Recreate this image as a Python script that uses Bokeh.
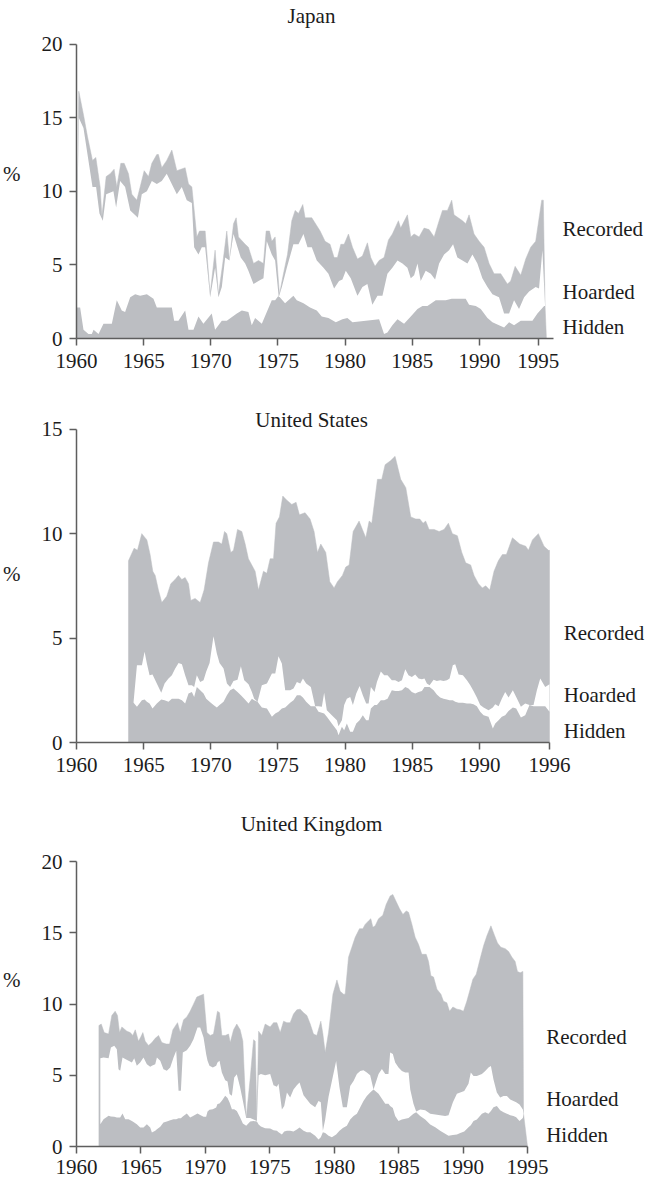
from bokeh.plotting import figure
from bokeh.layouts import column
from bokeh.models import Range1d, FixedTicker
from bokeh.core.properties import value
from bokeh.embed import file_html
from bokeh.resources import INLINE

# ---------------- data ----------------
SERIES = ["Recorded", "Hoarded", "Hidden"]

# Japan
jp_total_yr = [1960.00, 1960.17, 1960.52, 1960.82, 1961.19, 1961.44, 1961.76, 1961.89, 1962.21, 1962.51,
               1962.80, 1963.00, 1963.30, 1963.55, 1963.87, 1964.12, 1964.49, 1964.74, 1965.04, 1965.36,
               1965.61, 1965.98, 1966.10, 1966.35, 1966.72, 1967.10, 1967.47, 1968.09, 1968.34, 1968.59,
               1968.96, 1969.16, 1969.58, 1969.95, 1970.32, 1970.57, 1970.89, 1971.19, 1971.39, 1971.69,
               1971.89, 1972.06, 1972.56, 1972.80, 1973.18, 1973.55, 1973.92, 1974.12, 1974.37, 1974.54,
               1974.79, 1975.11, 1975.41, 1975.71, 1976.03, 1976.28, 1976.53, 1976.85, 1977.02, 1977.52,
               1978.14, 1978.51, 1978.88, 1979.18, 1979.43, 1979.68, 1979.93, 1980.25, 1980.55, 1980.92,
               1981.29, 1981.66, 1981.91, 1982.23, 1982.53, 1982.90, 1983.23, 1983.52, 1983.97, 1984.14,
               1984.64, 1984.89, 1985.14, 1985.51, 1985.88, 1986.25, 1986.63, 1987.00, 1987.25, 1987.62,
               1987.94, 1988.11, 1988.74, 1988.98, 1989.23, 1989.60, 1989.98, 1990.35, 1990.72, 1991.09,
               1991.59, 1992.08, 1992.33, 1992.66, 1993.08, 1993.45, 1993.82, 1994.19, 1994.64, 1994.76,
               1994.89, 1994.99]
jp_total = [4.8, 16.8, 15.2, 13.7, 12.1, 12.3, 10.3, 8.3, 11.0, 11.2,
            11.5, 10.3, 11.9, 11.9, 11.2, 9.8, 9.4, 10.3, 11.4, 11.0,
            11.9, 12.5, 12.5, 11.6, 12.1, 12.8, 11.4, 11.6, 10.5, 10.3,
            6.9, 7.3, 7.3, 3.0, 6.0, 3.0, 5.1, 7.3, 5.3, 7.8,
            8.2, 6.9, 6.4, 6.2, 5.1, 5.3, 5.1, 7.3, 7.3, 6.6,
            6.9, 3.0, 4.4, 5.7, 8.0, 8.7, 8.5, 9.1, 8.2, 8.2,
            7.3, 6.6, 6.4, 5.5, 5.5, 6.4, 6.4, 7.1, 6.2, 5.4,
            5.6, 6.5, 5.5, 4.9, 5.3, 5.5, 6.7, 7.1, 8.0, 7.5,
            8.4, 6.9, 7.1, 6.9, 7.5, 7.4, 6.9, 8.0, 8.7, 8.7,
            9.4, 8.4, 8.0, 7.8, 8.4, 7.1, 6.6, 6.2, 5.1, 4.4,
            4.4, 3.7, 3.9, 4.9, 4.3, 5.4, 6.2, 6.6, 9.4, 9.4,
            2.2, 0.0]
jp_upper_yr = [1960.00, 1960.17, 1960.52, 1961.19, 1961.46, 1961.71, 1961.96, 1962.21, 1962.75, 1962.95,
               1963.25, 1963.62, 1964.00, 1964.24, 1964.57, 1964.86, 1965.24, 1965.61, 1965.98, 1966.35,
               1966.72, 1967.47, 1967.84, 1968.21, 1968.59, 1968.76, 1969.08, 1969.33, 1969.58, 1969.95,
               1970.32, 1970.57, 1970.82, 1971.07, 1971.39, 1971.69, 1971.99, 1972.23, 1972.56, 1972.80,
               1973.18, 1973.55, 1973.92, 1974.17, 1974.54, 1974.79, 1975.06, 1975.29, 1975.66, 1976.15,
               1976.53, 1976.90, 1977.20, 1977.52, 1977.89, 1978.39, 1978.76, 1979.18, 1979.55, 1979.80,
               1980.05, 1980.42, 1980.92, 1981.29, 1981.66, 1982.03, 1982.41, 1982.78, 1983.15, 1983.52,
               1983.90, 1984.27, 1984.64, 1984.89, 1985.14, 1985.39, 1985.63, 1986.00, 1986.38, 1986.70,
               1987.00, 1987.37, 1987.74, 1988.04, 1988.36, 1988.74, 1989.11, 1989.48, 1989.85, 1990.22,
               1990.60, 1990.97, 1991.46, 1991.84, 1992.21, 1992.58, 1992.95, 1993.33, 1993.70, 1994.19,
               1994.44, 1994.69, 1994.89]
jp_upper = [4.8, 15.0, 14.3, 10.3, 10.3, 8.5, 8.0, 9.8, 10.0, 8.9,
            10.7, 10.3, 8.7, 8.5, 8.2, 9.8, 10.0, 10.7, 10.5, 10.7,
            11.2, 9.8, 10.3, 9.4, 9.2, 6.2, 5.7, 6.2, 6.2, 2.8,
            4.8, 2.8, 3.5, 5.5, 5.3, 7.1, 6.2, 5.5, 5.1, 4.6,
            3.7, 3.9, 4.1, 6.6, 5.7, 5.3, 2.8, 3.5, 4.8, 6.4,
            6.4, 7.1, 6.2, 6.2, 5.3, 4.8, 4.4, 3.4, 3.9, 4.0,
            4.6, 4.1, 2.9, 3.5, 3.7, 2.3, 2.9, 2.9, 4.4, 4.8,
            5.3, 5.1, 4.8, 4.1, 4.3, 5.1, 3.9, 4.6, 4.4, 4.0,
            5.1, 5.7, 6.0, 6.4, 5.5, 5.3, 5.1, 5.7, 5.1, 4.1,
            3.5, 3.0, 2.8, 1.7, 1.7, 2.6, 2.0, 2.8, 3.2, 3.5,
            3.4, 6.0, 2.2]
jp_lower_yr = [1960.00, 1960.27, 1960.52, 1960.89, 1961.14, 1961.27, 1961.64, 1962.01, 1962.63, 1963.00,
               1963.37, 1963.62, 1964.00, 1964.37, 1964.74, 1965.24, 1965.73, 1965.98, 1967.10, 1967.27,
               1967.59, 1968.09, 1968.34, 1968.71, 1969.08, 1969.45, 1970.07, 1970.32, 1970.82, 1971.19,
               1971.94, 1972.31, 1972.80, 1973.05, 1973.30, 1973.80, 1974.54, 1974.79, 1975.04, 1975.53,
               1976.15, 1976.40, 1976.90, 1977.39, 1977.89, 1978.26, 1978.76, 1979.31, 1979.80, 1980.17,
               1980.55, 1981.54, 1982.53, 1982.90, 1983.15, 1983.52, 1983.90, 1984.39, 1984.89, 1985.39,
               1985.76, 1986.13, 1986.75, 1987.49, 1987.94, 1988.98, 1989.23, 1989.73, 1990.10, 1990.60,
               1990.97, 1991.46, 1991.84, 1992.21, 1992.58, 1993.08, 1993.95, 1994.32, 1994.82, 1994.89]
jp_lower = [2.1, 2.1, 0.6, 0.3, 0.3, 0.6, 0.3, 1.0, 1.0, 2.6,
            1.9, 1.8, 2.8, 3.0, 2.9, 3.0, 2.7, 2.1, 2.1, 1.2,
            1.2, 1.9, 0.6, 0.6, 1.5, 1.0, 1.7, 0.6, 1.2, 1.2,
            1.7, 1.9, 1.8, 0.9, 1.4, 1.0, 2.6, 2.6, 2.9, 2.4,
            2.9, 2.6, 2.4, 2.1, 1.9, 1.5, 1.4, 1.1, 1.3, 1.4,
            1.1, 1.2, 1.3, 0.3, 0.4, 0.9, 1.3, 1.0, 1.5, 2.0,
            2.2, 2.2, 2.6, 2.6, 2.7, 2.7, 2.3, 2.2, 2.0, 1.4,
            1.1, 0.9, 0.75, 1.1, 0.9, 1.2, 1.2, 1.7, 2.2, 2.2]

# United States
us_total_yr = [1963.87, 1964.29, 1964.54, 1964.86, 1965.24, 1965.48, 1965.68, 1965.86, 1966.10, 1966.35,
               1966.72, 1967.02, 1967.34, 1967.59, 1967.84, 1968.09, 1968.34, 1968.51, 1968.83, 1969.21,
               1969.50, 1969.83, 1970.20, 1970.57, 1970.82, 1971.02, 1971.19, 1971.49, 1971.69, 1971.99,
               1972.31, 1972.56, 1972.80, 1973.05, 1973.30, 1973.55, 1973.92, 1974.17, 1974.42, 1974.67,
               1974.86, 1975.11, 1975.36, 1975.66, 1976.03, 1976.35, 1976.60, 1977.02, 1977.39, 1977.69,
               1977.94, 1978.19, 1978.56, 1978.86, 1979.18, 1979.43, 1979.80, 1980.05, 1980.30, 1980.60,
               1981.04, 1981.29, 1981.54, 1981.79, 1981.99, 1982.41, 1982.73, 1982.98, 1983.40, 1983.72,
               1984.14, 1984.52, 1984.89, 1985.26, 1985.56, 1985.81, 1986.00, 1986.25, 1986.63, 1987.00,
               1987.37, 1987.69, 1987.99, 1988.36, 1988.69, 1988.98, 1989.35, 1989.60, 1989.93, 1990.22,
               1990.47, 1990.77, 1991.09, 1991.41, 1991.71, 1992.01, 1992.46, 1993.00, 1993.45, 1993.65,
               1993.95, 1994.39, 1994.81, 1995.14, 1995.22]
us_total = [8.7, 9.3, 9.2, 10.0, 9.7, 9.0, 8.2, 8.0, 7.3, 6.7,
            7.0, 7.6, 7.8, 8.0, 7.8, 7.9, 7.6, 6.8, 6.9, 6.7,
            7.3, 8.6, 9.6, 9.6, 9.5, 10.1, 10.0, 9.1, 9.2, 10.2,
            10.1, 9.5, 8.8, 8.5, 8.2, 7.3, 8.2, 8.1, 8.8, 8.8,
            10.5, 10.8, 11.8, 11.6, 11.4, 11.5, 10.9, 11.0, 10.7, 10.1,
            9.1, 9.5, 9.1, 7.7, 7.4, 7.7, 8.0, 8.4, 8.5, 10.1,
            10.6, 10.2, 9.8, 10.6, 10.5, 12.6, 12.6, 13.3, 13.5, 13.7,
            12.6, 12.2, 10.8, 10.7, 10.7, 10.5, 10.6, 10.2, 10.2, 10.1,
            10.2, 10.5, 10.0, 9.9, 9.1, 8.6, 8.5, 8.0, 7.6, 7.4,
            7.5, 7.3, 8.2, 8.7, 9.0, 9.0, 9.8, 9.5, 9.4, 9.2,
            9.7, 10.0, 9.4, 9.2, 9.2]
us_band_yr = [1964.25, 1964.50, 1964.87, 1965.07, 1965.24, 1965.44, 1965.66, 1965.98, 1966.31, 1966.56,
              1966.85, 1967.10, 1967.35, 1967.60, 1967.85, 1968.09, 1968.34, 1968.59, 1968.76, 1968.96,
              1969.21, 1969.46, 1969.66, 1969.91, 1970.20, 1970.45, 1970.65, 1970.95, 1971.20, 1971.44,
              1971.69, 1971.99, 1972.24, 1972.49, 1972.81, 1973.06, 1973.23, 1973.48, 1973.80, 1974.18,
              1974.55, 1974.80, 1975.04, 1975.29, 1975.54, 1975.91, 1976.16, 1976.41, 1976.66, 1976.86,
              1977.10, 1977.45, 1977.77, 1978.02, 1978.27, 1978.44, 1978.64, 1979.01, 1979.39, 1979.51,
              1979.76, 1979.93, 1980.13, 1980.38, 1980.58, 1980.83, 1981.08, 1981.32, 1981.57, 1981.75,
              1981.92, 1982.19, 1982.37, 1982.66, 1982.91, 1983.16, 1983.48, 1983.73, 1983.98, 1984.23,
              1984.48, 1984.72, 1984.97, 1985.22, 1985.47, 1985.72, 1985.91, 1986.09, 1986.29, 1986.59,
              1986.83, 1987.08, 1987.33, 1987.58, 1987.78, 1988.02, 1988.20, 1988.45, 1988.77, 1989.07,
              1989.32, 1989.56, 1989.81, 1990.06, 1990.31, 1990.68, 1991.00, 1991.18, 1991.43, 1991.67,
              1991.92, 1992.17, 1992.49, 1992.74, 1993.09, 1993.41, 1993.73, 1994.03, 1994.28, 1994.53,
              1994.90, 1995.22]
us_upper = [1.95, 3.70, 3.70, 4.34, 3.78, 3.22, 3.25, 2.82, 2.38, 2.82,
            3.06, 3.22, 3.54, 3.81, 3.75, 3.22, 2.74, 2.74, 2.66, 3.22,
            2.90, 2.98, 3.40, 3.81, 5.09, 4.26, 3.81, 3.54, 2.82, 2.66,
            2.95, 3.01, 3.65, 2.98, 2.79, 2.42, 2.10, 1.95, 2.74, 2.82,
            3.30, 3.30, 4.13, 3.78, 2.50, 2.50, 2.58, 2.90, 2.82, 3.06,
            2.82, 2.66, 1.74, 1.74, 1.71, 2.38, 1.55, 1.31, 1.07, 0.78,
            1.07, 1.79, 2.10, 2.18, 1.79, 2.34, 2.71, 2.26, 1.87, 1.87,
            2.66, 2.42, 2.90, 3.40, 3.22, 3.22, 2.98, 2.98, 2.90, 2.98,
            3.51, 3.22, 3.14, 3.25, 3.06, 3.03, 3.06, 2.82, 2.74, 3.01,
            2.95, 2.98, 2.95, 2.98, 3.06, 3.70, 3.75, 3.25, 3.22, 2.98,
            2.74, 2.47, 2.15, 1.79, 1.67, 1.55, 1.67, 1.83, 1.74, 2.10,
            2.42, 2.15, 2.50, 2.18, 1.71, 1.87, 1.79, 1.79, 2.50, 3.06,
            2.66, 2.79]
us_lower = [1.90, 1.71, 2.02, 2.06, 1.95, 1.87, 1.63, 1.87, 2.06, 2.02,
            1.95, 2.10, 2.10, 2.10, 2.02, 1.87, 2.34, 2.42, 2.18, 2.66,
            2.50, 2.34, 2.10, 1.95, 1.79, 1.67, 1.79, 1.95, 2.26, 2.50,
            2.58, 2.42, 2.26, 2.10, 1.87, 2.10, 2.02, 1.95, 1.67, 1.63,
            1.23, 1.39, 1.47, 1.63, 1.67, 1.90, 2.02, 2.26, 2.26, 2.15,
            1.95, 1.74, 1.74, 1.47, 1.42, 1.39, 1.23, 0.91, 0.59, 0.35,
            0.75, 0.59, 0.91, 0.51, 0.51, 0.91, 1.07, 1.31, 1.07, 1.07,
            1.63, 1.79, 1.79, 2.02, 2.02, 2.10, 2.50, 2.47, 2.47, 2.50,
            2.66, 2.58, 2.42, 2.34, 2.42, 2.47, 2.66, 2.66, 2.66, 2.50,
            2.30, 2.15, 2.10, 2.06, 2.02, 2.02, 1.95, 1.90, 1.90, 1.87,
            1.87, 1.83, 1.74, 1.47, 1.31, 1.23, 0.67, 0.91, 1.07, 1.23,
            1.31, 1.51, 1.67, 1.63, 1.20, 1.31, 1.79, 1.74, 1.74, 1.74,
            1.74, 1.47]

# United Kingdom
uk_total_yr = [1961.74, 1961.92, 1962.15, 1962.49, 1962.74, 1963.00, 1963.18, 1963.34, 1963.52, 1963.91,
               1964.17, 1964.37, 1964.56, 1964.81, 1964.99, 1965.15, 1965.33, 1965.59, 1965.85, 1966.11,
               1966.37, 1966.62, 1966.96, 1967.22, 1967.48, 1967.84, 1968.05, 1968.31, 1968.56, 1968.82,
               1969.08, 1969.34, 1969.60, 1969.86, 1970.12, 1970.38, 1970.63, 1970.94, 1971.10, 1971.28,
               1971.54, 1971.80, 1971.93, 1972.19, 1972.44, 1972.70, 1972.91, 1973.17, 1973.48, 1973.74,
               1973.87, 1974.00, 1974.13, 1974.38, 1974.64, 1975.03, 1975.29, 1975.55, 1975.81, 1976.07,
               1976.33, 1976.58, 1976.84, 1977.10, 1977.36, 1977.62, 1977.88, 1978.14, 1978.39, 1978.65,
               1978.96, 1979.12, 1979.30, 1979.56, 1979.90, 1980.21, 1980.46, 1980.72, 1980.85, 1981.11,
               1981.37, 1981.63, 1981.96, 1982.22, 1982.40, 1982.66, 1982.84, 1983.00, 1983.18, 1983.44,
               1983.77, 1984.03, 1984.34, 1984.55, 1984.86, 1985.07, 1985.33, 1985.59, 1985.77, 1986.03,
               1986.28, 1986.54, 1986.80, 1987.14, 1987.32, 1987.50, 1987.71, 1987.97, 1988.28, 1988.48,
               1988.74, 1988.95, 1989.21, 1989.52, 1989.78, 1990.03, 1990.29, 1990.55, 1990.76, 1991.02,
               1991.33, 1991.59, 1991.85, 1992.16, 1992.41, 1992.67, 1992.93, 1993.27, 1993.53, 1993.79,
               1994.04, 1994.22, 1994.43, 1994.64, 1994.69, 1995.00]
uk_total = [8.5, 8.6, 8.0, 7.9, 9.2, 9.5, 9.2, 8.0, 8.4, 8.1,
            8.0, 7.8, 8.2, 7.4, 7.7, 8.0, 7.4, 7.1, 7.3, 7.6,
            7.8, 7.3, 7.2, 7.2, 8.2, 8.7, 8.0, 8.9, 9.1, 9.5,
            10.0, 10.5, 10.6, 10.7, 8.0, 7.8, 7.9, 9.5, 9.4, 7.8,
            7.8, 7.9, 7.3, 8.2, 8.6, 8.2, 7.4, 2.0, 4.8, 7.5,
            7.4, 1.8, 8.1, 7.8, 8.6, 8.4, 8.7, 8.7, 8.0, 8.8,
            8.7, 8.7, 9.3, 9.6, 9.65, 9.4, 9.2, 8.6, 7.9, 7.8,
            8.8, 7.9, 6.6, 8.0, 10.7, 11.7, 10.9, 10.7, 10.7, 13.3,
            14.0, 14.7, 15.3, 15.3, 15.6, 15.85, 16.0, 15.4, 15.5, 16.0,
            16.25, 17.0, 17.6, 17.7, 17.1, 16.7, 16.3, 16.55, 16.45, 15.6,
            14.7, 14.2, 13.5, 13.5, 13.0, 12.0, 11.9, 11.05, 10.7, 10.2,
            10.1, 9.5, 9.8, 9.65, 9.6, 9.5, 10.2, 11.05, 11.75, 12.1,
            13.2, 14.1, 14.8, 15.5, 14.9, 14.3, 14.0, 13.9, 13.7, 13.3,
            13.0, 12.3, 12.2, 12.3, 2.3, 0.0]
uk_band_yr = [1961.85, 1962.10, 1962.49, 1962.67, 1962.93, 1963.13, 1963.26, 1963.39, 1963.57, 1963.78,
              1964.04, 1964.30, 1964.48, 1964.68, 1964.94, 1965.20, 1965.46, 1965.72, 1965.85, 1966.11,
              1966.24, 1966.50, 1966.75, 1967.01, 1967.27, 1967.53, 1967.74, 1967.92, 1968.10, 1968.25,
              1968.56, 1968.82, 1969.08, 1969.39, 1969.60, 1969.86, 1970.06, 1970.17, 1970.32, 1970.58,
              1970.84, 1970.94, 1971.10, 1971.28, 1971.54, 1971.72, 1971.88, 1972.06, 1972.24, 1972.44,
              1972.70, 1972.91, 1973.17, 1973.48, 1973.74, 1974.00, 1974.13, 1974.31, 1974.64, 1975.03,
              1975.29, 1975.55, 1975.68, 1975.94, 1976.12, 1976.33, 1976.58, 1976.84, 1977.10, 1977.31,
              1977.62, 1977.88, 1978.14, 1978.52, 1978.78, 1978.96, 1979.12, 1979.30, 1979.56, 1979.82,
              1980.15, 1980.41, 1980.67, 1980.98, 1981.24, 1981.50, 1981.76, 1982.02, 1982.27, 1982.53,
              1982.79, 1983.05, 1983.44, 1983.70, 1983.96, 1984.21, 1984.34, 1984.55, 1984.73, 1984.99,
              1985.25, 1985.51, 1985.77, 1985.90, 1986.15, 1986.36, 1986.67, 1987.06, 1987.45, 1987.84,
              1988.22, 1988.61, 1988.87, 1989.21, 1989.52, 1989.78, 1990.09, 1990.42, 1990.60, 1990.81,
              1991.07, 1991.46, 1991.72, 1991.97, 1992.16, 1992.36, 1992.62, 1992.88, 1993.14, 1993.40,
              1993.66, 1993.91, 1994.12, 1994.38, 1994.64, 1994.69]
uk_upper = [6.2, 6.25, 6.2, 6.95, 7.07, 6.84, 5.43, 5.32, 6.25, 6.14,
            6.02, 5.9, 6.2, 5.67, 5.9, 6.25, 5.78, 5.6, 5.67, 5.78,
            6.25, 6.02, 5.43, 5.32, 5.55, 6.25, 6.72, 3.91, 3.91, 6.6,
            6.77, 7.07, 7.54, 8.36, 8.36, 7.66, 6.49, 6.02, 5.67, 5.55,
            5.67, 5.9, 6.02, 5.2, 4.66, 4.56, 3.68, 3.56, 4.85, 5.08,
            4.15, 3.21, 2.0, 2.0, 1.9, 1.8, 5.0, 5.1, 5.0, 5.1,
            4.3, 4.2, 4.4, 2.6, 2.85, 3.8, 3.45, 4.0, 4.3, 4.5,
            3.6, 3.3, 3.0, 2.75, 3.2, 3.1, 1.1, 1.9, 3.5, 4.6,
            6.0, 4.15, 2.75, 2.75, 4.25, 4.6, 5.1, 5.3, 5.35, 5.2,
            5.0, 4.0, 5.1, 5.45, 5.1, 5.1, 6.6, 6.5, 5.9, 5.55,
            5.3, 5.2, 5.2, 4.0, 3.0, 2.45, 2.6, 2.55, 2.3, 2.25,
            2.2, 2.15, 2.2, 3.1, 3.7, 3.8, 3.9, 4.4, 5.2, 4.95,
            4.95, 5.1, 5.3, 5.55, 5.65, 4.7, 3.8, 3.45, 3.55, 3.55,
            3.3, 3.2, 3.1, 2.95, 2.6, 2.3]
uk_lower = [1.57, 1.92, 2.16, 2.1, 2.09, 2.04, 2.04, 2.04, 2.32, 1.92,
            1.92, 1.8, 1.69, 1.57, 1.34, 1.34, 1.57, 1.34, 0.99, 1.1,
            1.22, 1.38, 1.69, 1.76, 1.85, 1.92, 1.92, 1.99, 1.99, 2.1,
            2.32, 2.04, 2.16, 2.32, 2.22, 2.09, 2.09, 2.46, 2.58, 2.62,
            2.74, 2.98, 3.02, 3.21, 3.56, 3.4, 3.09, 2.62, 2.62, 2.5,
            2.04, 1.62, 1.45, 1.75, 1.8, 1.75, 1.55, 1.4, 1.28, 1.26,
            1.15, 1.1, 1.0, 0.85, 1.05, 1.1, 1.1, 1.05, 1.2, 1.33,
            1.1, 1.0, 1.0, 0.75, 0.5, 0.65, 1.0, 0.95, 0.75, 0.65,
            0.85, 1.1, 1.3, 1.45, 1.9, 2.15, 2.3, 2.75, 3.2, 3.55,
            3.8, 4.0, 3.7, 3.35, 3.0, 3.0, 2.85, 2.7, 2.15, 1.8,
            1.9, 1.95, 2.0, 2.1, 2.3, 2.4, 2.15, 1.9, 1.55, 1.35,
            1.1, 0.9, 0.75, 0.8, 0.85, 0.95, 1.05, 1.35, 1.5, 1.8,
            1.9, 2.3, 2.4, 2.3, 2.5, 2.75, 2.85, 2.55, 2.4, 2.3,
            2.2, 2.15, 2.05, 1.8, 2.0, 2.3]

# ---------------- style ----------------
FONT = "Liberation Serif"
FS = "21px"
GREY = "#bcbec2"
AXIS = "#5e5e5e"
TXT = "#1c1c1c"
WIDTH = 646
LEFT = 76


def panel(title, height, top, frame_h, px_per_unit, px_per_year, y_ticks, x_ticks, x_labels,
          x_axis_end, tot_x, tot_y, up_x, up_y, lo_x, lo_y,
          title_pos, label_x, label_ys, label_standoff):
    x_end = 1960 + (WIDTH - LEFT) / px_per_year
    y_end = frame_h / px_per_unit
    p = figure(width=WIDTH, height=height, output_backend="svg", toolbar_location=None,
               x_range=Range1d(1960, x_end), y_range=Range1d(0, y_end),
               min_border_left=LEFT, min_border_right=0, min_border_top=top,
               min_border_bottom=height - frame_h - top)
    p.outline_line_color = None
    p.grid.visible = False
    p.background_fill_color = "white"
    p.border_fill_color = "white"

    # grey total area, then the white "hoarded" band cut out of it
    gx = [tot_x[0]] + list(tot_x) + [tot_x[-1]]
    gy = [0] + list(tot_y) + [0]
    p.patch(gx, gy, fill_color=GREY, line_color=GREY, line_width=0.5)
    wx = list(up_x) + list(lo_x)[::-1]
    wy = list(up_y) + list(lo_y)[::-1]
    p.patch(wx, wy, fill_color="white", line_color=None)

    p.text(x=[title_pos[0]], y=[title_pos[1]], text=[title], text_font=value(FONT),
           text_font_size=FS, text_align="center", text_baseline="middle", text_color=TXT)
    p.text(x=[label_x] * 3, y=label_ys, text=SERIES, text_font=value(FONT),
           text_font_size=FS, text_align="left", text_baseline="middle", text_color=TXT)

    xa = p.xaxis[0]
    ya = p.yaxis[0]
    xa.ticker = FixedTicker(ticks=x_ticks)
    xa.major_label_overrides = {t: l for t, l in zip(x_ticks, x_labels)}
    xa.bounds = (1960, x_axis_end)
    ya.ticker = FixedTicker(ticks=y_ticks)
    ya.bounds = (0, y_ticks[-1])
    for ax in (xa, ya):
        ax.axis_line_color = AXIS
        ax.axis_line_width = 1.5
        ax.major_tick_line_color = AXIS
        ax.major_tick_line_width = 1.5
        ax.major_tick_out = 7
        ax.major_tick_in = 0
        ax.minor_tick_line_color = None
        ax.major_label_text_font = FONT
        ax.major_label_text_font_size = FS
        ax.major_label_text_color = TXT
    ya.major_label_standoff = 7
    xa.major_label_standoff = label_standoff
    ya.axis_label = "%"
    ya.axis_label_text_font = FONT
    ya.axis_label_text_font_size = FS
    ya.axis_label_text_font_style = "normal"
    ya.axis_label_text_color = TXT
    ya.axis_label_standoff = 18
    ya.axis_label_orientation = "horizontal"
    return p


YEARS_5 = [1960, 1965, 1970, 1975, 1980, 1985, 1990]

p1 = panel("Japan", 400, 8, 330, 14.72, 13.43, [0, 5, 10, 15, 20],
           YEARS_5 + [1994.38], [str(y) for y in YEARS_5] + ["1995"], 1995.52,
           jp_total_yr, jp_total, jp_upper_yr, jp_upper, jp_lower_yr, jp_lower,
           (1977.5, 21.9), 1996.19, [7.46, 3.16, 0.78], 8)
p2 = panel("United States", 408, 5, 337, 20.887, 13.43, [0, 5, 10, 15],
           YEARS_5 + [1995.22], [str(y) for y in YEARS_5] + ["1996"], 1995.22,
           us_total_yr, us_total, us_band_yr, us_upper, us_band_yr, us_lower,
           (1977.5, 15.45), 1996.28, [5.24, 2.26, 0.53], 8)
p3 = panel("United Kingdom", 375, 5, 333, 14.235, 12.886, [0, 5, 10, 15, 20],
           YEARS_5 + [1995], [str(y) for y in YEARS_5] + ["1995"], 1995.0,
           uk_total_yr, uk_total, uk_band_yr, uk_upper, uk_band_yr, uk_lower,
           (1978.24, 22.68), 1996.45, [7.69, 3.36, 0.78], 6)

layout = column(p1, p2, p3)
open("out.html", "w").write(file_html(layout, INLINE))
